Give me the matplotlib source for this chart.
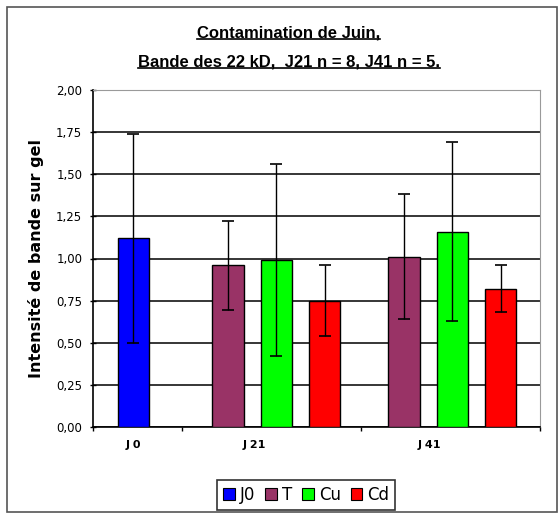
import matplotlib
matplotlib.use("Agg")
import matplotlib.pyplot as plt
from matplotlib.patches import Patch, Rectangle
from matplotlib.lines import Line2D

# données
categories = ["J 0", "J 21", "J 41"]
series = ["J0", "T", "Cu", "Cd"]
colors = ["#0000FF", "#993366", "#00FF00", "#FF0000"]

j0_mean = [1.12]
j0_sd = [0.62]
t_mean = [0.96, 1.01]
t_sd = [0.265, 0.37]
cu_mean = [0.99, 1.16]
cu_sd = [0.57, 0.53]
cd_mean = [0.75, 0.82]
cd_sd = [0.21, 0.14]

yticks = [0, 0.25, 0.5, 0.75, 1.0, 1.25, 1.5, 1.75, 2.0]

# mise en page (axe x en unités libres)
x_j0 = [0.45]
group_x = [2.05, 4.02]
offset = 0.54
width = 0.35
cat_pos = [0.45, 1.80, 3.76]
bounds = [0, 1, 3, 5]

fig = plt.figure(figsize=(5.6, 5.15), dpi=100)
ax = fig.add_axes([93/560, 1-427/515, (540-93)/560, (427-90)/515])

err_kw = dict(ecolor="black", elinewidth=1, capsize=4.3, capthick=1.2)
ax.bar(x_j0, j0_mean, width, color=colors[0], edgecolor="black", lw=1,
       yerr=j0_sd, error_kw=err_kw, zorder=3)
for k, (m, s) in enumerate([(t_mean, t_sd), (cu_mean, cu_sd), (cd_mean, cd_sd)]):
    xs = [g + (k - 1) * offset for g in group_x]
    ax.bar(xs, m, width, color=colors[k + 1], edgecolor="black", lw=1,
           yerr=s, error_kw=err_kw, zorder=3)

ax.set_xlim(0, 5)
ax.set_ylim(0, 2)
ax.set_yticks(yticks)
ax.set_yticklabels([f"{v:.2f}".replace(".", ",") for v in yticks], fontsize=8.5)
ax.yaxis.grid(True, color="black", lw=1.1, zorder=0)
ax.tick_params(axis="y", direction="inout", length=4.5, width=1, pad=5.5)

ax.set_xticks(bounds)
ax.set_xticklabels([])
ax.tick_params(axis="x", which="major", direction="out", length=3, width=1)
ax.set_xticks(cat_pos, minor=True)
ax.set_xticklabels(categories, minor=True, fontsize=8, fontweight="bold")
ax.tick_params(axis="x", which="minor", length=0, pad=9)

for s in ["top", "right"]:
    ax.spines[s].set_color("#9a9a9a")
for s in ["left", "bottom"]:
    ax.spines[s].set_color("black")
    ax.spines[s].set_linewidth(1.2)

ax.set_ylabel("Intensité de bande sur gel", fontsize=11.5, fontweight="bold", labelpad=9)

# titre souligné
tfont = dict(family=["Liberation Sans", "DejaVu Sans"], fontsize=12, fontweight="bold")
t1 = fig.text(0.5155, 1-33/515, "Contamination de Juin,", ha="center", va="center", **tfont)
t2 = fig.text(0.5155, 1-62/515, "Bande des 22 kD,  J21 n = 8, J41 n = 5.", ha="center",
              va="center", **tfont)
fig.canvas.draw()
r = fig.canvas.get_renderer()
for t in (t1, t2):
    bb = t.get_window_extent(r).transformed(fig.transFigure.inverted())
    fig.add_artist(Line2D([bb.x0, bb.x1], [bb.y0 + 0.002, bb.y0 + 0.002],
                          transform=fig.transFigure, color="black", lw=1.2))

handles = [Patch(facecolor=c, edgecolor="black", lw=0.8) for c in colors]
leg = fig.legend(handles, series, loc="center", bbox_to_anchor=(0.547, 1-495/515),
                 ncol=4, fontsize=12, frameon=True, fancybox=False, edgecolor="black",
                 handlelength=0.7, handleheight=0.7, handletextpad=0.3,
                 columnspacing=0.6, borderpad=0.35)
leg.get_frame().set_linewidth(1.2)

fig.add_artist(Rectangle((7/560, 1-512/515), 550/560, 505/515, transform=fig.transFigure,
                         fill=False, edgecolor="#555555", lw=1.2))

fig.savefig("out.png", dpi=100)
